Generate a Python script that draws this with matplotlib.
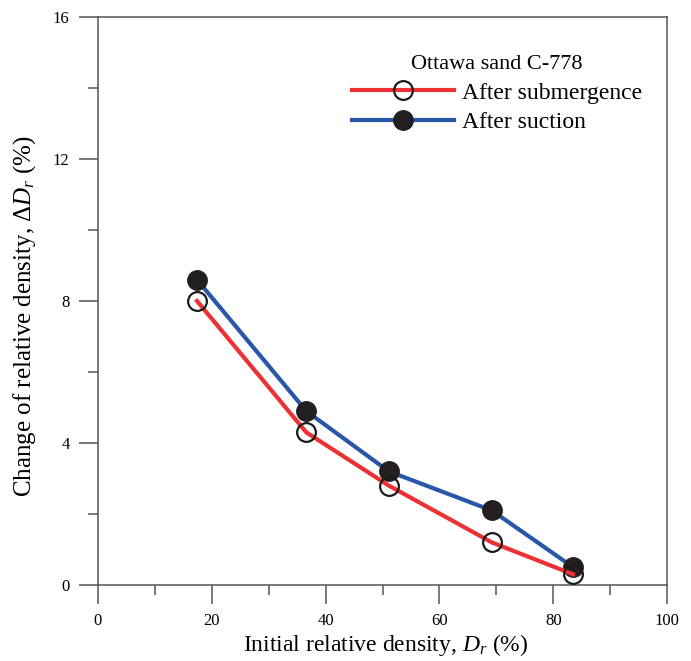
import numpy as np
import matplotlib.pyplot as plt
from matplotlib.ticker import MultipleLocator

plt.rcParams['font.family'] = 'Liberation Serif'
plt.rcParams['mathtext.fontset'] = 'custom'
plt.rcParams['mathtext.rm'] = 'Liberation Serif'
plt.rcParams['mathtext.it'] = 'Liberation Serif:italic'

# initial relative density (%)
dr_init = [17.4, 36.6, 51.1, 69.2, 83.5]
# change of relative density (%)
d_submergence = [8.0, 4.3, 2.8, 1.2, 0.3]
d_suction = [8.6, 4.9, 3.2, 2.1, 0.5]

red = '#ec3033'
blue = '#2a56a8'
spine_c = '#555555'

fig = plt.figure(figsize=(6.91, 6.61), dpi=100)
ax = fig.add_axes([0.1418, 0.115, 0.8235, 0.8593])

ax.plot(dr_init, d_submergence, color=red, lw=3, marker='o', ms=13.5,
        mfc='none', mec='#1a1a1a', mew=1.6, label='After submergence', zorder=3)
ax.plot(dr_init, d_suction, color=blue, lw=3, marker='o', ms=14,
        mfc='#231f20', mec='#231f20', label='After suction', zorder=2)

ax.set_xlim(0, 100)
ax.set_ylim(0, 16)
ax.xaxis.set_major_locator(MultipleLocator(20))
ax.xaxis.set_minor_locator(MultipleLocator(10))
ax.yaxis.set_major_locator(MultipleLocator(4))
ax.yaxis.set_minor_locator(MultipleLocator(2))
ax.tick_params(which='major', direction='out', length=13.5, width=1.1,
               color=spine_c, labelsize=12, pad=7)
ax.tick_params(which='minor', direction='out', length=7, width=1.1, color=spine_c)
for s in ax.spines.values():
    s.set_color(spine_c)
    s.set_linewidth(1.1)

ax.set_xlabel('Initial relative density, $D_r$ (%)', fontsize=17)
ax.set_ylabel('Change of relative density, $\\mathrm{\\Delta}D_r$ (%)', fontsize=18)
ax.xaxis.set_label_coords(0.505, -0.083)
ax.yaxis.set_label_coords(-0.105, 0.474)

leg = ax.legend(loc='upper left', bbox_to_anchor=(0.43, 0.95), frameon=False,
                title='Ottawa sand C-778', title_fontsize=16, fontsize=17,
                handlelength=4.3, handletextpad=0.35, labelspacing=0.35,
                borderaxespad=0)
leg._legend_box.align = 'center'

fig.savefig('out.png', dpi=100)
